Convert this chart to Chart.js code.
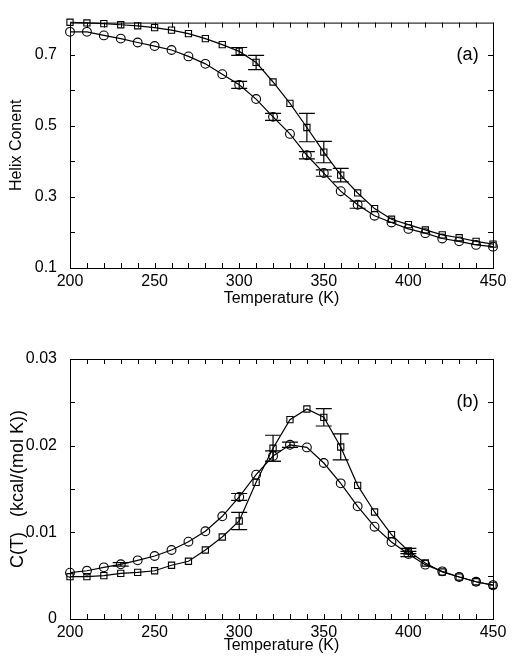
<!DOCTYPE html>
<html>
<head>
<meta charset="utf-8">
<script src="https://cdn.jsdelivr.net/npm/chart.js@4.4.1/dist/chart.umd.min.js"></script>
<style>
    body { margin: 0; background: #fff; }
    #wrap { position: relative; width: 512px; height: 664px; }
    canvas { position: absolute; left: 0; }
</style>
</head>
<body>
<div id="wrap">
    <canvas id="helix-chart" width="512" height="320" style="top:0"></canvas>
    <canvas id="heat-chart" width="512" height="344" style="top:320px"></canvas>
</div>
<script>
// Температуры (K)
const temps = [200, 210, 220, 230, 240, 250, 260, 270, 280, 290, 300, 310, 320, 330,
               340, 350, 360, 370, 380, 390, 400, 410, 420, 430, 440, 450];

// (a) доля спирали
const helixSquares = [0.791, 0.789, 0.787, 0.784, 0.781, 0.776, 0.769, 0.759, 0.745, 0.728, 0.709, 0.678, 0.623, 0.563,
                      0.495, 0.426, 0.361, 0.311, 0.267, 0.237, 0.222, 0.207, 0.193, 0.185, 0.175, 0.167];
const helixCircles = [0.764, 0.764, 0.754, 0.745, 0.734, 0.724, 0.713, 0.695, 0.674, 0.645, 0.615, 0.575, 0.525, 0.477,
                      0.417, 0.367, 0.316, 0.278, 0.247, 0.228, 0.210, 0.198, 0.183, 0.175, 0.165, 0.160];
const helixSquaresErr = [0, 0, 0, 0, 0, 0, 0, 0, 0, 0, 0.011, 0.02, 0, 0,
                         0.04, 0.03, 0.019, 0, 0, 0, 0, 0, 0, 0, 0, 0];
const helixCirclesErr = [0, 0, 0, 0, 0, 0, 0, 0, 0, 0, 0.01, 0, 0.01, 0,
                         0.01, 0.009, 0, 0.01, 0, 0, 0, 0, 0, 0, 0, 0];

// (b) теплоёмкость
const heatSquares = [0.00488, 0.00488, 0.0050, 0.00527, 0.00538, 0.00557, 0.0062, 0.00666, 0.00796, 0.00946, 0.01131, 0.01577, 0.0197, 0.0230,
                     0.02423, 0.02327, 0.01985, 0.01542, 0.01235, 0.00973, 0.00785, 0.00646, 0.00542, 0.00485, 0.0043, 0.00389];
const heatCircles = [0.00534, 0.00557, 0.00596, 0.00631, 0.00677, 0.00727, 0.00796, 0.00892, 0.01012, 0.01185, 0.01408, 0.01665, 0.0188, 0.0201,
                     0.0198, 0.0180, 0.01565, 0.0130, 0.01065, 0.00888, 0.0075, 0.00627, 0.0055, 0.00485, 0.0043, 0.0039];
const heatSquaresErr = [0, 0, 0, 0, 0, 0, 0, 0, 0, 0, 0.001, 0, 0.0015, 0,
                        0, 0.001, 0.0015, 0, 0, 0, 0.0003, 0, 0, 0, 0, 0];
const heatCirclesErr = [0, 0, 0, 0.0002, 0, 0, 0, 0, 0, 0, 0.0004, 0, 0.0006, 0.0003,
                        0, 0, 0, 0, 0, 0, 0.0003, 0, 0, 0, 0, 0];

// Метки осей
const xTicks = [200, 210, 220, 230, 240, 250, 260, 270, 280, 290, 300, 310, 320, 330, 340, 350, 360, 370, 380, 390, 400, 410, 420, 430, 440, 450];
const xLabels = [200, 250, 300, 350, 400, 450];
const helixTicks = [0.1, 0.2, 0.3, 0.4, 0.5, 0.6, 0.7];
const helixLabels = ['0.1', '0.3', '0.5', '0.7'];
const heatTicks = [0, 0.005, 0.01, 0.015, 0.02, 0.025, 0.03];
const heatLabels = ['0', '0.01', '0.02', '0.03'];

const FONT = 'Liberation Sans, Arial, Helvetica, sans-serif';

// Рамка, внутренние засечки, погрешности и подпись панели
const framePlugin = {
    id: 'frame',
    afterDatasetsDraw(chart) {
        const ctx = chart.ctx;
        const area = chart.chartArea;
        const xs = chart.scales.x;
        const ys = chart.scales.y;
        ctx.save();
        ctx.strokeStyle = '#000';
        ctx.lineWidth = 1;
        ctx.strokeRect(area.left + 0.5, area.top + 0.5, area.right - area.left, area.bottom - area.top);
        ctx.beginPath();
        xs.ticks.forEach(t => {
            const px = Math.round(xs.getPixelForValue(t.value)) + 0.5;
            ctx.moveTo(px, area.bottom); ctx.lineTo(px, area.bottom - 5);
            ctx.moveTo(px, area.top); ctx.lineTo(px, area.top + 5);
        });
        ys.ticks.forEach(t => {
            const py = Math.round(ys.getPixelForValue(t.value)) + 0.5;
            ctx.moveTo(area.left, py); ctx.lineTo(area.left + 5, py);
            ctx.moveTo(area.right, py); ctx.lineTo(area.right - 5, py);
        });
        ctx.stroke();

        // погрешности
        ctx.lineWidth = 1.2;
        chart.data.datasets.forEach(ds => {
            if (!ds.errors) return;
            ctx.beginPath();
            ds.data.forEach((p, i) => {
                const e = ds.errors[i];
                if (!e) return;
                const px = xs.getPixelForValue(p.x);
                const y1 = ys.getPixelForValue(p.y + e);
                const y2 = ys.getPixelForValue(p.y - e);
                ctx.moveTo(px, y1); ctx.lineTo(px, y2);
                ctx.moveTo(px - 8, y1); ctx.lineTo(px + 8, y1);
                ctx.moveTo(px - 8, y2); ctx.lineTo(px + 8, y2);
            });
            ctx.stroke();
        });

        const tag = chart.options.plugins.frame.tag;
        ctx.fillStyle = '#000';
        ctx.font = '18px ' + FONT;
        ctx.textAlign = 'center';
        ctx.textBaseline = 'middle';
        ctx.fillText(tag.text, xs.getPixelForValue(tag.x), ys.getPixelForValue(tag.y));
        ctx.restore();
    }
};

function series(values, errors, style) {
    return {
        data: temps.map((t, i) => ({ x: t, y: values[i] })),
        errors: errors,
        clip: false,
        borderColor: '#000',
        borderWidth: 1.2,
        pointStyle: style,
        pointRadius: 4.4,
        pointBorderColor: '#000',
        pointBorderWidth: 1.1,
        pointBackgroundColor: 'rgba(0,0,0,0)',
        tension: 0,
        fill: false
    };
}

function buildChart(elementId, cfg) {
    const ctx = document.getElementById(elementId).getContext('2d');
    return new Chart(ctx, {
        type: 'line',
        data: {
            datasets: [
                series(cfg.squares, cfg.squaresErr, 'rect'),
                series(cfg.circles, cfg.circlesErr, 'circle')
            ]
        },
        options: {
            responsive: false,
            animation: false,
            devicePixelRatio: 1,
            layout: { padding: { top: cfg.padTop, right: 19, left: 0, bottom: cfg.padBottom } },
            plugins: {
                legend: { display: false },
                tooltip: { enabled: false },
                frame: { tag: cfg.tag }
            },
            scales: {
                x: {
                    type: 'linear',
                    min: 200,
                    max: 450,
                    afterBuildTicks: s => { s.ticks = xTicks.map(v => ({ value: v })); },
                    afterFit: s => { s.height = cfg.xHeight; },
                    grid: { display: false, drawTicks: false },
                    border: { display: false },
                    ticks: {
                        padding: 4,
                        color: '#000',
                        maxRotation: 0,
                        autoSkip: false,
                        font: { family: FONT, size: 16 },
                        callback: v => xLabels.includes(v) ? String(v) : ''
                    },
                    title: {
                        display: true,
                        text: 'Temperature (K)',
                        color: '#000',
                        padding: { top: 0, bottom: 0 },
                        font: { family: FONT, size: 16 }
                    }
                },
                y: {
                    type: 'linear',
                    min: cfg.yMin,
                    max: cfg.yMax,
                    afterBuildTicks: s => { s.ticks = cfg.yTicks.map(v => ({ value: v })); },
                    afterFit: s => { s.width = 70; },
                    grid: { display: false, drawTicks: false },
                    border: { display: false },
                    ticks: {
                        padding: 13,
                        color: '#000',
                        autoSkip: false,
                        font: { family: FONT, size: 16 },
                        callback: v => {
                            const s = String(+v.toFixed(4));
                            return cfg.yLabels.includes(s) ? s : '';
                        }
                    },
                    title: {
                        display: true,
                        text: cfg.yTitle,
                        color: '#000',
                        padding: { top: 7, bottom: 0 },
                        font: { family: FONT, size: cfg.yTitleSize }
                    }
                }
            }
        },
        plugins: [framePlugin]
    });
}

buildChart('helix-chart', {
    squares: helixSquares, circles: helixCircles,
    squaresErr: helixSquaresErr, circlesErr: helixCirclesErr,
    yMin: 0.1, yMax: 0.79, yTicks: helixTicks, yLabels: helixLabels,
    yTitle: 'Helix Conent', yTitleSize: 16,
    padTop: 9, padBottom: 12, xHeight: 40,
    tag: { text: '(a)', x: 435, y: 0.7 }
});

buildChart('heat-chart', {
    squares: heatSquares, circles: heatCircles,
    squaresErr: heatSquaresErr, circlesErr: heatCirclesErr,
    yMin: 0, yMax: 0.03, yTicks: heatTicks, yLabels: heatLabels,
    yTitle: 'C(T)   (kcal/(mol K))', yTitleSize: 18,
    padTop: 39, padBottom: 9, xHeight: 36,
    tag: { text: '(b)', x: 435, y: 0.025 }
});
</script>
</body>
</html>
